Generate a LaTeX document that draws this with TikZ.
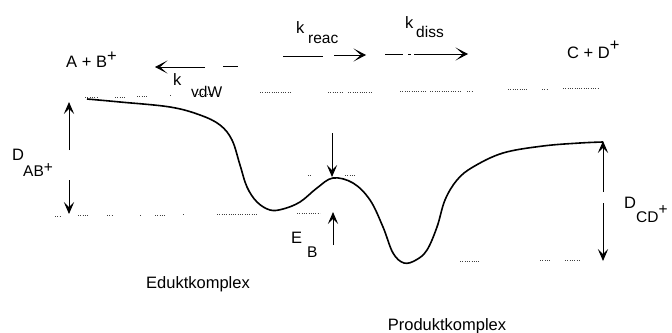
\documentclass[tikz,border=0pt]{standalone}
\usepackage{fontspec}
\setmainfont{Liberation Sans}
\usetikzlibrary{arrows.meta}
\tikzset{lbl/.style={inner sep=0pt,anchor=base west,font=\fontsize{16.5}{18}\selectfont},sub/.style={inner sep=0pt,anchor=base west,font=\fontsize{15.5}{17}\selectfont},dimline/.style={draw=black,line width=1pt,-{Stealth[length=4.2mm,width=3.6mm,inset=1.8mm]}},rate/.style={draw=black,line width=1pt,-{Stealth[length=4.4mm,width=4.6mm,inset=2.6mm]}},seg/.style={draw=black,line width=1pt},dots/.style={draw=black!75,line width=0.7pt,dash pattern=on 0.7pt off 1.6pt},pes/.style={draw=black,line width=1.6pt,line join=round}}

\begin{document}
\begin{tikzpicture}[x=1pt,y=-1pt]
\useasboundingbox (0,0) rectangle (672,332);
% energy levels (dotted)
\foreach \a/\b/\y in {85/97/97,115/125/97,137/148/96,170/171/95,193/213/94,260/290/92,328/342/92,348/373/92,400/427/91,430/460/91,467/473/91,508/528/89,542/548/89,563/598/88}
  \draw[dots] (\a,\y)--(\b,\y);
\foreach \a/\b/\y in {55/60/216,78/88/215,107/113/215,140/141/215,155/165/215,183/184/214,217/257/214,297/320/213}
  \draw[dots] (\a,\y)--(\b,\y);
\foreach \a/\b/\y in {308/312/175,345/355/175,460/480/261,540/550/260,565/580/260}
  \draw[dots] (\a,\y)--(\b,\y);
% potential curve
\draw[pes] plot[smooth,tension=0.6] coordinates {(87,99) (120,102) (170,107) (200,115) (220,125) (232,140) (240,165) (247,187) (257,202) (270,210) (283,209) (300,202) (317,188) (333,178) (353,183) (370,200) (383,227) (393,253) (404,263) (416,260) (427,250) (437,227) (445,200) (457,180) (473,167) (503,153) (543,146) (580,143) (603,142)};
% species
\node[lbl] (ab) at (66,67) {A + B\raisebox{6pt}{+}};
\node[lbl] (cd) at (567,58) {C + D\raisebox{8pt}{+}};
% rate labels and arrows
\node[lbl] (kv) at (173,85) {k};
\node[sub] (kvs) at (191,97) {vdW};
\node[lbl] (kr) at (296,33) {k};
\node[sub] (krs) at (308,43) {reac};
\node[lbl] (kd) at (405,28) {k};
\node[sub] (kds) at (416,37) {diss};
\coordinate (v1) at (205,67); \coordinate (v0) at (155,67);
\coordinate (v2) at (223,66); \coordinate (v3) at (238,66);
\draw[rate] (v1)--(v0);
\draw[seg] (v2)--(v3);
\coordinate (r0) at (283,56); \coordinate (r1) at (323,56);
\coordinate (r2) at (334,55); \coordinate (r3) at (366,55);
\draw[seg] (r0)--(r1);
\draw[rate] (r2)--(r3);
\coordinate (d0) at (385,54); \coordinate (d1) at (403,54);
\coordinate (d2) at (408,54); \coordinate (d3) at (411,54);
\coordinate (d4) at (414,54); \coordinate (d5) at (468,54);
\draw[seg] (d0)--(d1);
\draw[seg] (d2)--(d3);
\draw[rate] (d4)--(d5);
% dissociation energies and barrier
\coordinate (a0) at (69,150); \coordinate (a1) at (69,102);
\coordinate (a2) at (69,180); \coordinate (a3) at (69,214);
\draw[dimline] (a0)--(a1);
\draw[dimline] (a2)--(a3);
\node[lbl] (dab) at (12,160) {D};
\node[sub] (dabs) at (23,176) {AB\raisebox{4pt}{+}};
\coordinate (e0) at (332,133); \coordinate (e1) at (332,177);
\coordinate (e2) at (333,245); \coordinate (e3) at (333,212);
\draw[dimline] (e0)--(e1);
\draw[dimline] (e2)--(e3);
\node[lbl] (eb) at (291,243) {E};
\node[sub] (ebs) at (307,257) {B};
\coordinate (c0) at (603,192); \coordinate (c1) at (603,141);
\coordinate (c2) at (603,203); \coordinate (c3) at (603,261);
\draw[dimline] (c0)--(c1);
\draw[dimline] (c2)--(c3);
\node[lbl] (dcd) at (624,208) {D};
\node[sub] (dcds) at (636,222) {CD\raisebox{8pt}{+}};
% complexes
\node[lbl,anchor=base] (edukt) at (198,288) {Eduktkomplex};
\node[lbl,anchor=base] (produkt) at (447,330) {Produktkomplex};
\end{tikzpicture}
\end{document}
